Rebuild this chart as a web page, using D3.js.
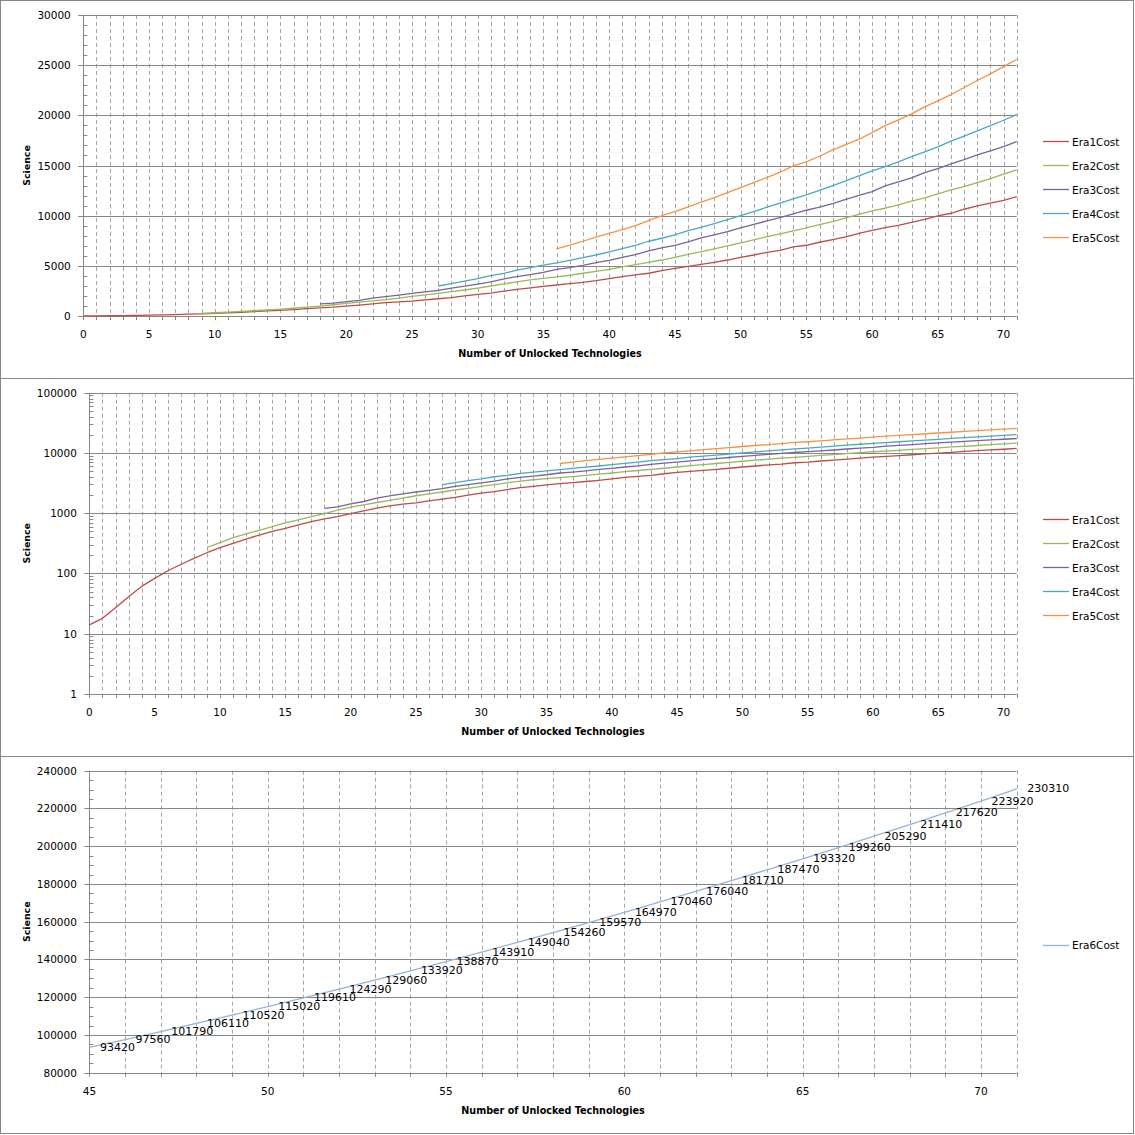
<!DOCTYPE html>
<html><head><meta charset="utf-8">
<script src="https://cdn.jsdelivr.net/npm/d3@7"></script>
<style>
body{margin:0;background:#fff}
svg{display:block}
text{font-family:"DejaVu Sans",Verdana,sans-serif;fill:#000}
</style>
</head><body>
<svg id="c" width="1135" height="1135"></svg>
<script>
// ---------- DATA ----------
const seriesNames = ["Era1Cost","Era2Cost","Era3Cost","Era4Cost","Era5Cost"];
const era1Start = 0;
const era1 = [14,18,27,41,61,83,111,141,178,221,268,316,373,435,501,560,639,727,805,880,
  987,1093,1211,1324,1410,1490,1600,1720,1830,2000,2150,2290,2470,2650,2800,2950,
  3090,3220,3360,3520,3720,3920,4090,4260,4520,4750,4950,5150,5350,5580,5850,6080,
  6350,6550,6880,7050,7350,7610,7880,8240,8540,8810,9040,9340,9640,9970,10240,10640,
  10970,11240,11530,11900];
const era2Start = 9;
const era2 = [270,325,393,453,521,599,690,774,880,987,1122,1259,1376,1507,1627,1780,
  1950,2100,2250,2430,2590,2780,2990,3200,3400,3590,3760,3890,4060,4260,4450,4650,
  4890,5120,5350,5580,5850,6150,6420,6680,6980,7280,7580,7910,8180,8480,8780,9110,
  9410,9770,10140,10470,10740,11070,11440,11770,12170,12570,12900,13300,13700,14130,14560];
const era3Start = 18;
const era3 = [1200,1275,1430,1565,1780,1940,2090,2250,2400,2560,2780,2980,3180,3400,
  3700,3930,4130,4350,4650,4820,5050,5320,5550,5850,6120,6480,6780,7050,7380,7780,
  8080,8410,8780,9140,9470,9810,10170,10540,10840,11200,11630,12030,12400,12960,13360,
  13760,14290,14690,15160,15590,16060,16450,16890,17390];
const era4Start = 27;
const era4 = [2990,3220,3480,3720,4030,4250,4580,4820,5060,5290,5550,5820,6080,6380,
  6710,7050,7450,7750,8080,8510,8840,9210,9610,10000,10400,10840,11240,11670,12070,
  12530,13000,13460,13960,14460,14890,15360,15890,16350,16850,17420,17920,18450,18980,
  19510,20080];
const era5Start = 36;
const era5 = [6680,7060,7450,7850,8230,8620,9010,9500,10000,10400,10870,11340,11800,
  12300,12800,13300,13800,14330,14960,15360,15920,16550,17090,17620,18280,18980,19550,
  20140,20840,21440,22070,22770,23470,24130,24860,25560];
const era6Name = "Era6Cost";
const era6Start = 45;
const era6 = [93420,97560,101790,106110,110520,115020,119610,124290,129060,133920,
  138870,143910,149040,154260,159570,164970,170460,176040,181710,187470,193320,
  199260,205290,211410,217620,223920,230310];

const linearTicks = [0,5000,10000,15000,20000,25000,30000];
const logTicks = [1,10,100,1000,10000,100000];
const era6Ticks = [80000,100000,120000,140000,160000,180000,200000,220000,240000];
const xLabels12 = [0,5,10,15,20,25,30,35,40,45,50,55,60,65,70];
const xLabels3 = [45,50,55,60,65,70];
const xTitle = "Number of Unlocked Technologies";
const yTitle = "Science";

// ---------- STYLE ----------
const colors = ["#BE4B48","#98B954","#7D60A0","#46AAC5","#F69240"];
const era6Color = "#95B3D7";
const gridColor = "#868686";
const dashColor = "#a6a6a6";

const svg = d3.select("#c");
const toPts = (start, vals) => vals.map((v,i)=>({x:start+i, y:v}));
const eraSeries = [[era1Start,era1],[era2Start,era2],[era3Start,era3],[era4Start,era4],[era5Start,era5]]
  .map((s,i)=>({name:seriesNames[i], color:colors[i], pts:toPts(s[0],s[1])}));
const crisp = v => Math.round(v) + 0.5;

function drawChart(cfg){
  const g = svg.append("g");
  // frame
  g.append("rect").attr("x",0.5).attr("y",cfg.fy0+0.5).attr("width",1133).attr("height",cfg.fy1-cfg.fy0)
    .attr("fill","#fff").attr("stroke",gridColor).attr("stroke-width",1);
  const x = d3.scaleLinear().domain(cfg.xDomain).range([cfg.left,cfg.right]);
  const y = cfg.yScale.range([cfg.bottom,cfg.top]);
  // vertical dashed gridlines each integer
  const xInts = d3.range(cfg.xDomain[0], cfg.xDomain[1]+1);
  g.selectAll(".vg").data(xInts.filter(d=>d>cfg.xDomain[0])).join("line")
    .attr("x1",d=>crisp(x(d))).attr("x2",d=>crisp(x(d)))
    .attr("y1",cfg.top).attr("y2",cfg.bottom)
    .attr("stroke",dashColor).attr("stroke-width",1).attr("stroke-dasharray","4,3");
  // minor y ticks (inside)
  g.selectAll(".my").data(cfg.minor).join("line")
    .attr("x1",cfg.left).attr("x2",cfg.left+4)
    .attr("y1",d=>crisp(y(d))).attr("y2",d=>crisp(y(d)))
    .attr("stroke",gridColor).attr("stroke-width",1);
  // major horizontal gridlines with outer tick
  g.selectAll(".hg").data(cfg.major).join("line")
    .attr("x1",cfg.left-5).attr("x2",cfg.right)
    .attr("y1",d=>crisp(y(d))).attr("y2",d=>crisp(y(d)))
    .attr("stroke",gridColor).attr("stroke-width",1);
  // x ticks
  g.selectAll(".xt").data(xInts).join("line")
    .attr("x1",d=>crisp(x(d))).attr("x2",d=>crisp(x(d)))
    .attr("y1",cfg.bottom).attr("y2",cfg.bottom+4)
    .attr("stroke",gridColor).attr("stroke-width",1);
  // y axis line
  g.append("line").attr("x1",crisp(cfg.left)).attr("x2",crisp(cfg.left))
    .attr("y1",cfg.top).attr("y2",cfg.bottom+0.5).attr("stroke",gridColor).attr("stroke-width",1);
  // y labels
  g.selectAll(".yl").data(cfg.major).join("text")
    .attr("x",cfg.left-12.5).attr("y",d=>y(d)).attr("text-anchor","end")
    .attr("dominant-baseline","central").style("font-size","10.5px").text(d=>d);
  // x labels
  g.selectAll(".xl").data(cfg.xLabels).join("text")
    .attr("x",d=>x(d)).attr("y",cfg.bottom+18).attr("text-anchor","middle")
    .attr("dominant-baseline","central").style("font-size","10.5px").text(d=>d);
  // titles
  g.append("text").attr("x",(cfg.left+cfg.right)/2).attr("y",cfg.bottom+37.5)
    .attr("text-anchor","middle").attr("dominant-baseline","central")
    .style("font-size","9.6px").style("font-weight","bold").text(xTitle);
  g.append("text").attr("transform",`translate(26,${(cfg.top+cfg.bottom)/2}) rotate(-90)`)
    .attr("text-anchor","middle").attr("dominant-baseline","central")
    .style("font-size","9.4px").style("font-weight","bold").text(yTitle);
  // lines
  const line = d3.line().x(d=>x(d.x)).y(d=>y(d.y));
  cfg.series.forEach(s=>{
    g.append("path").attr("d",line(s.pts)).attr("fill","none")
      .attr("stroke",s.color).attr("stroke-width",1.3).attr("stroke-linejoin","round");
  });
  // data labels
  if(cfg.dataLabels){
    const s = cfg.series[0];
    g.selectAll(".dl").data(s.pts).join("text")
      .attr("x",d=>x(d.x)+10.5).attr("y",d=>y(d.y)).attr("dominant-baseline","central")
      .style("font-size","11px").text(d=>d.y);
  }
  // legend
  const cy = (cfg.fy0+cfg.fy1)/2;
  const n = cfg.series.length;
  cfg.series.forEach((s,i)=>{
    const ly = cy + (i-(n-1)/2)*24;
    g.append("line").attr("x1",1043).attr("x2",1069).attr("y1",crisp(ly)).attr("y2",crisp(ly))
      .attr("stroke",s.color).attr("stroke-width",1.3);
    g.append("text").attr("x",1072).attr("y",ly+0.5).attr("dominant-baseline","central")
      .style("font-size","10.5px").text(s.name);
  });
}

// chart 1: linear
drawChart({
  fy0:0, fy1:378, left:83.3, right:1016.7, top:15, bottom:316,
  xDomain:[0,71], yScale:d3.scaleLinear().domain([0,30000]),
  major:linearTicks, minor:d3.range(1000,30000,1000).filter(v=>v%5000!==0),
  xLabels:xLabels12, series:eraSeries
});
// chart 2: log
const logMinor = [];
logTicks.slice(0,-1).forEach(b=>{ for(let k=2;k<10;k++) logMinor.push(b*k); });
drawChart({
  fy0:378, fy1:756, left:89.4, right:1016.7, top:392.7, bottom:694,
  xDomain:[0,71], yScale:d3.scaleLog().domain([1,100000]),
  major:logTicks, minor:logMinor,
  xLabels:xLabels12, series:eraSeries
});
// chart 3: Era6
drawChart({
  fy0:756, fy1:1133, left:89.4, right:1016.7, top:770.7, bottom:1072.7,
  xDomain:[45,71], yScale:d3.scaleLinear().domain([80000,240000]),
  major:era6Ticks, minor:d3.range(85000,240000,5000).filter(v=>v%20000!==0),
  xLabels:xLabels3, series:[{name:era6Name,color:era6Color,pts:toPts(era6Start,era6)}],
  dataLabels:true
});
</script>
</body></html>
